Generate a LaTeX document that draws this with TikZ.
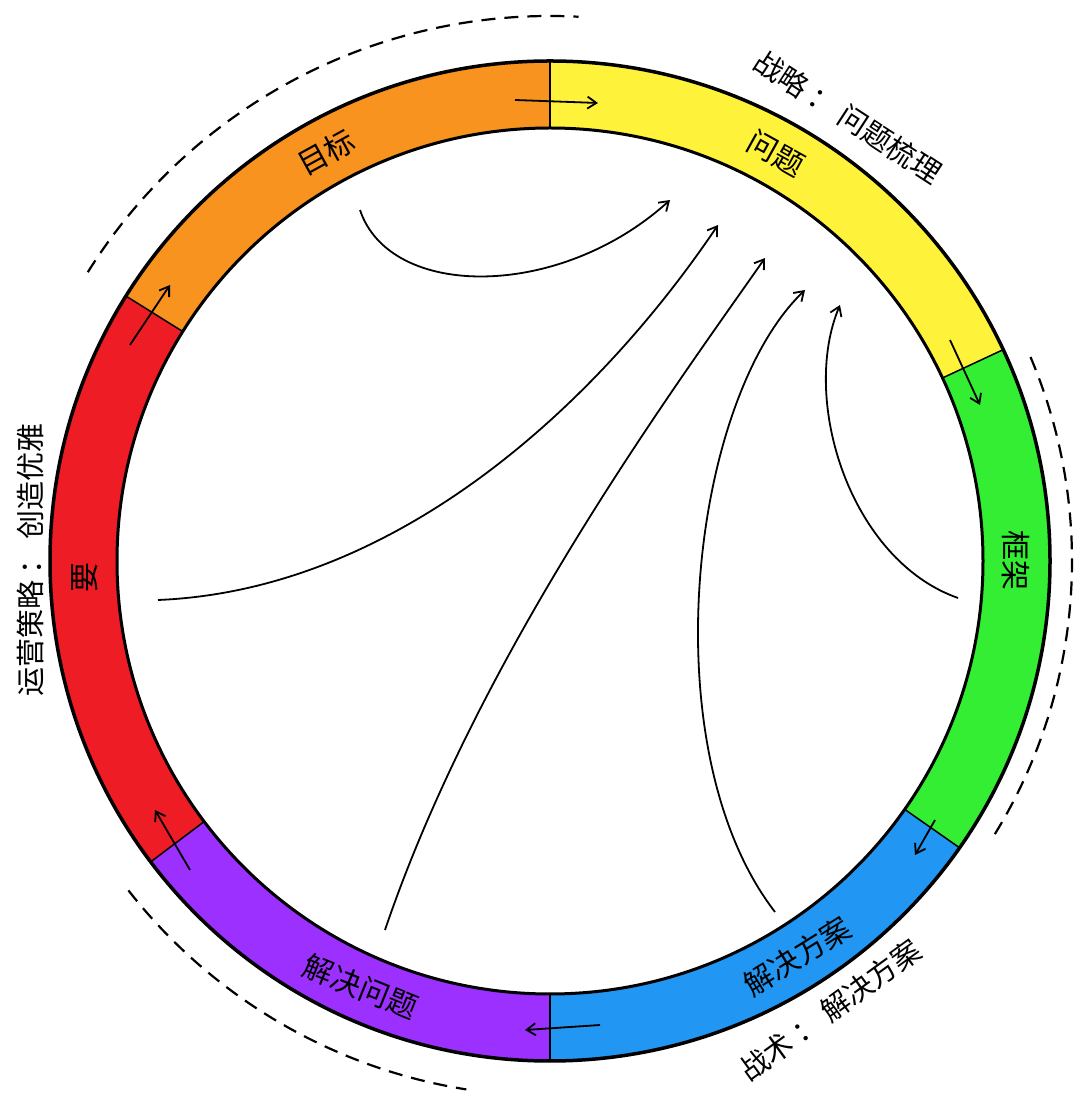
\documentclass[tikz,border=0pt]{standalone}
\usepackage{fontspec}
\newfontfamily\cjk{Noto Sans CJK SC}
\usetikzlibrary{arrows.meta}
\begin{document}
\begin{tikzpicture}[x=1pt,y=1pt,
  lbl/.style={font=\cjk\fontsize{30}{30}\selectfont},
  olbl/.style={font=\cjk\fontsize{29}{29}\selectfont},
  flow/.style={line width=1.8pt,-{Straight Barb[length=9pt,width=12pt]}},
  dasharc/.style={line width=2.2pt,dash pattern=on 14pt off 9pt}]
\useasboundingbox (0,0) rectangle (1080,1120);
\definecolor{cO}{HTML}{F7931E}\definecolor{cY}{HTML}{FFF23A}\definecolor{cG}{HTML}{33EE33}
\definecolor{cB}{HTML}{2196F3}\definecolor{cP}{HTML}{9B30FF}\definecolor{cR}{HTML}{EE1C25}
\begin{scope}[shift={(550,559)}]
\foreach \a/\b/\c in {90/148/cO,148/217/cR,217/270/cP,270/325/cB,325/385/cG,25/90/cY}{
  \fill[\c] (\a:500) arc (\a:\b:500) -- (\b:433) arc (\b:\a:433) -- cycle;}
\draw[line width=3.5pt] (0,0) circle (500);
\draw[line width=3pt] (0,0) circle (433);
\foreach \a in {90,148,217,270,325,25}{\draw[line width=1.5pt] (\a:433) -- (\a:500);}
\node[lbl,rotate=28.7] (t1) at (118.7:466) {目标};
\node[lbl,rotate=-29] (t2) at (61:466) {问题};
\node[lbl,rotate=-90] (t3) at (0:466) {框架};
\node[lbl,rotate=32] (t4) at (302:466) {解决方案};
\node[lbl,rotate=-22] (t5) at (246:466) {解决问题};
\node[lbl,rotate=90] (t6) at (182:466) {要};
\draw[dasharc] (148:545) arc (148:87:545);
\draw[dasharc] (23:522) arc (23:-32:522);
\draw[dasharc] (218:535) arc (218:261:535);
\end{scope}
\node[olbl,rotate=-33] (o1) at (848,1003) {战略 ： 问题梳理};
\node[olbl,rotate=90] (o2) at (30,560) {运营策略 ： 创造优雅};
\node[olbl,rotate=36] (o3) at (830,110) {战术 ： 解决方案};
\coordinate (s1a) at (515,1020);\coordinate (s1b) at (598,1017);
\coordinate (s2a) at (950,780);\coordinate (s2b) at (980,715);
\coordinate (s3a) at (935,300);\coordinate (s3b) at (915,265);
\coordinate (s4a) at (600,95);\coordinate (s4b) at (525,90);
\coordinate (s5a) at (190,250);\coordinate (s5b) at (155,310);
\coordinate (s6a) at (130,775);\coordinate (s6b) at (170,835);
\foreach \i in {1,...,6}{\draw[flow] (s\i a) -- (s\i b);}
\coordinate (c1a) at (360,910);\coordinate (c1b) at (670,920);
\coordinate (c2a) at (158,520);\coordinate (c2b) at (718,895);
\coordinate (c3a) at (385,190);\coordinate (c3b) at (765,862);
\coordinate (c4a) at (775,208);\coordinate (c4b) at (805,830);
\coordinate (c5a) at (958,522);\coordinate (c5b) at (840,815);
\draw[flow] (c1a) .. controls (390,820) and (560,820) .. (c1b);
\draw[flow] (c2a) .. controls (400,530) and (600,720) .. (c2b);
\draw[flow] (c3a) .. controls (480,470) and (680,740) .. (c3b);
\draw[flow] (c4a) .. controls (650,370) and (690,720) .. (c4b);
\draw[flow] (c5a) .. controls (850,560) and (800,720) .. (c5b);
\end{tikzpicture}
\end{document}
